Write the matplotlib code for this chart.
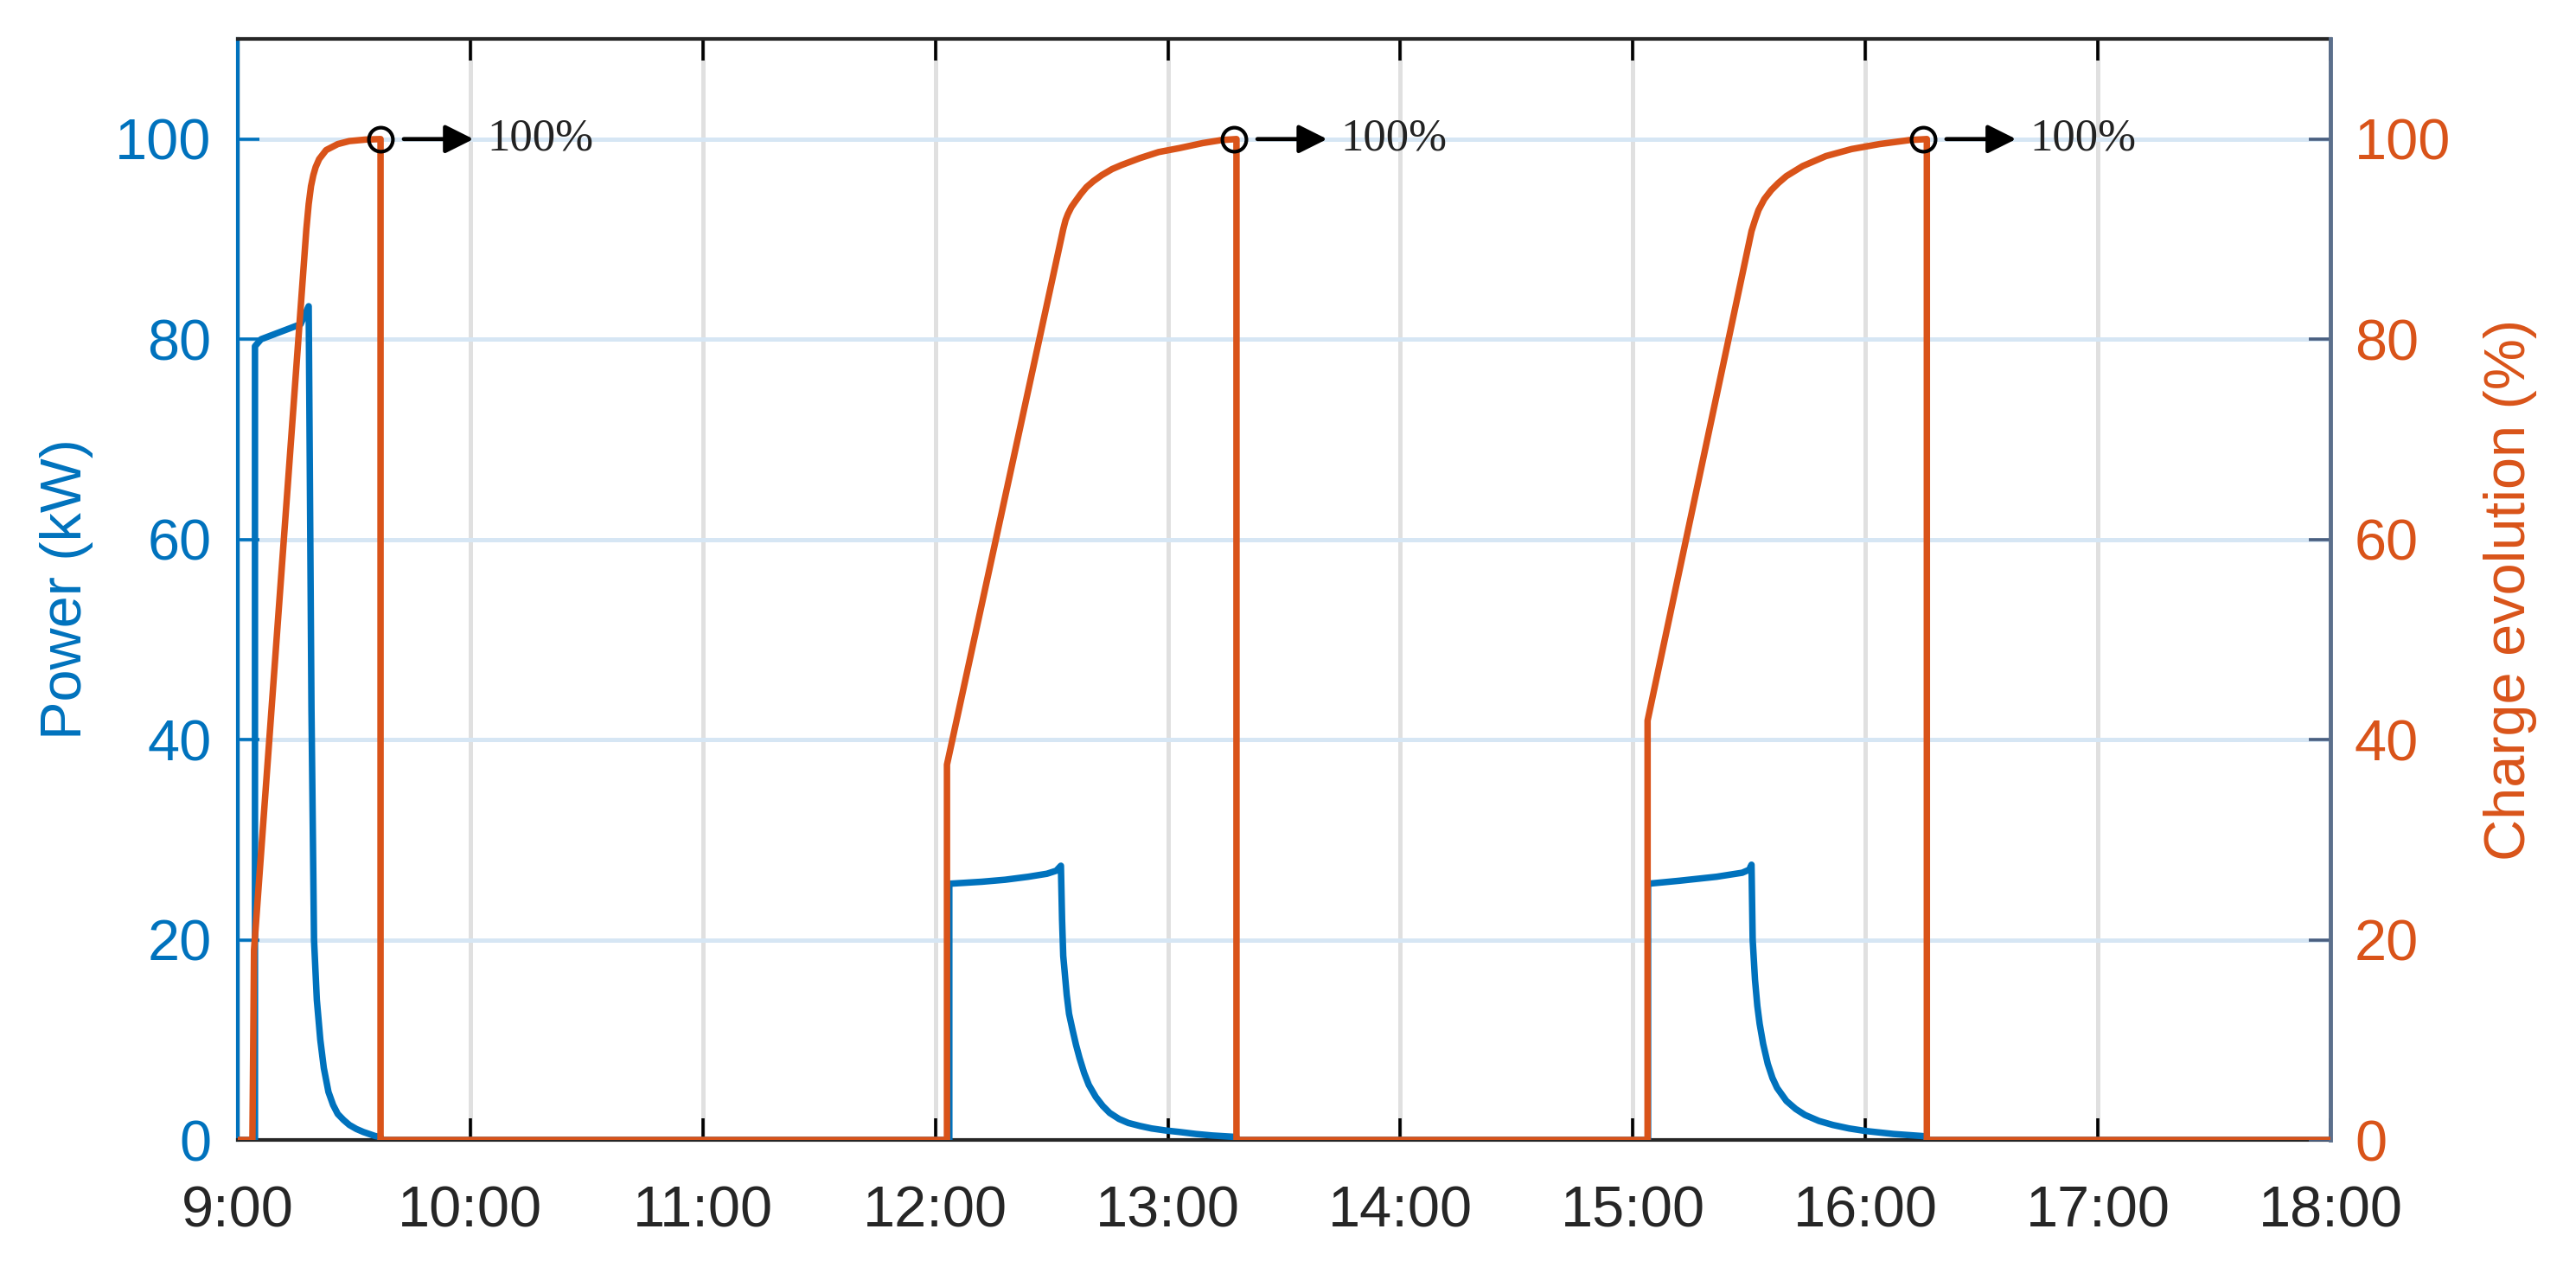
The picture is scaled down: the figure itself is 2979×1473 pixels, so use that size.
import numpy as np
import matplotlib.pyplot as plt

plt.rcParams['font.family'] = ['Liberation Sans', 'DejaVu Sans']

# time in decimal hours, power in kW (three charging sessions)
s1_t = [9.0, 9.074, 9.074, 9.10, 9.27, 9.305, 9.317, 9.328, 9.34, 9.355, 9.37, 9.39, 9.41, 9.43, 9.455,
        9.48, 9.51, 9.54, 9.59, 9.614, 9.614]
s1_kw = [0, 0, 79.3, 80.0, 81.5, 83.3, 43, 20, 14, 10, 7.2, 4.8, 3.5, 2.6, 2.0,
         1.5, 1.1, 0.8, 0.4, 0.3, 0]
s2_t = [12.06, 12.06, 12.20, 12.30, 12.40, 12.48, 12.52, 12.54, 12.545, 12.55, 12.565, 12.575, 12.59, 12.605,
        12.62, 12.64, 12.66, 12.69, 12.72, 12.75, 12.79, 12.83, 12.88, 12.93, 12.99, 13.05, 13.12, 13.19,
        13.26, 13.295, 13.295]
s2_kw = [0, 25.6, 25.8, 26.0, 26.3, 26.6, 26.9, 27.4, 22, 18.4, 14.5, 12.6, 11, 9.5,
         8.2, 6.7, 5.5, 4.3, 3.4, 2.7, 2.1, 1.7, 1.4, 1.15, 0.95, 0.8, 0.6, 0.45,
         0.35, 0.3, 0]
s3_t = [15.065, 15.065, 15.20, 15.36, 15.47, 15.50, 15.51, 15.515, 15.525, 15.535, 15.545, 15.56, 15.58, 15.60,
        15.62, 15.66, 15.70, 15.74, 15.80, 15.86, 15.93, 16.0, 16.06, 16.12, 16.18, 16.24, 16.264, 16.264, 18.0]
s3_kw = [0, 25.6, 25.9, 26.3, 26.7, 27.0, 27.5, 20, 16, 13.4, 11.6, 9.6, 7.6, 6.2,
         5.2, 3.9, 3.1, 2.5, 1.9, 1.5, 1.15, 0.9, 0.75, 0.6, 0.5, 0.4, 0.35, 0, 0]

# state of charge (%)
charge_t = [9.0, 9.063, 9.07, 9.295, 9.305, 9.315, 9.325, 9.335, 9.35, 9.38, 9.43, 9.48, 9.55, 9.614, 9.614,
            12.05, 12.05, 12.55, 12.56, 12.57, 12.585, 12.60, 12.625, 12.65, 12.68, 12.716, 12.76, 12.80,
            12.88, 12.96, 13.05, 13.15, 13.23, 13.295, 13.295,
            15.063, 15.063, 15.51, 15.525, 15.54, 15.565, 15.595, 15.625, 15.66, 15.73, 15.83, 15.94,
            16.06, 16.19, 16.264, 16.264, 18.0]
charge_pct = [0, 0, 19, 91, 93.5, 95.3, 96.4, 97.2, 98.0, 98.9, 99.5, 99.8, 99.95, 100, 0,
              0, 37.5, 91.0, 91.9, 92.5, 93.2, 93.7, 94.5, 95.2, 95.8, 96.4, 97.0, 97.4,
              98.1, 98.7, 99.1, 99.6, 99.9, 100, 0,
              0, 41.9, 90.8, 91.9, 92.9, 94.0, 94.9, 95.6, 96.3, 97.3, 98.3, 99.0,
              99.5, 99.9, 100, 0, 0]

full_t = [9.614, 13.285, 16.248]
hours = list(range(9, 19))
hour_labels = [f"{h}:00" for h in hours]
yticks = [0, 20, 40, 60, 80, 100]

blue = '#0072BD'
orange = '#D95319'

fig = plt.figure(figsize=(29.79, 14.73), dpi=100)
ax = fig.add_axes([0.0923, 0.1052, 0.8124, 0.8642])
ax2 = ax.twinx()

power_t = s1_t + s2_t + s3_t
power_kw = s1_kw + s2_kw + s3_kw
ax.plot(power_t, power_kw, color=blue, lw=5.4, solid_joinstyle='round', zorder=3)
ax2.plot(charge_t, charge_pct, color=orange, lw=5.4, solid_joinstyle='round', zorder=3)

# full charge markers with arrow
ax2.plot(full_t, [100] * len(full_t), 'o', ms=20, mfc='none', mec='black', mew=3, zorder=4)
for t in full_t:
    ax2.annotate('', xy=(t + 0.40, 100), xytext=(t + 0.10, 100),
                 arrowprops=dict(arrowstyle='-|>', color='black', lw=3.4, mutation_scale=50,
                                 shrinkA=0, shrinkB=0))
    ax2.text(t + 0.458, 100, '100%', family='Liberation Serif', fontsize=38,
             color='#222222', va='center', ha='left')

ax.set_xlim(9, 18)
ax.set_ylim(0, 110)
ax2.set_ylim(0, 110)

ax.set_xticks(hours)
ax.set_xticklabels(hour_labels)
ax.set_yticks(yticks)
ax2.set_yticks(yticks)

ax.xaxis.grid(True, color='#e0e0e0', lw=3.6)
ax.yaxis.grid(True, color='#d6e6f4', lw=3.6)
ax.set_axisbelow(True)

ax.tick_params(axis='x', direction='in', top=True, length=18, width=2.6, color='black',
               labelsize=48, labelcolor='#262626', pad=38)
ax.tick_params(axis='y', direction='in', length=18, width=2.6, color=blue,
               labelsize=48, labelcolor=blue, pad=22)
ax2.tick_params(axis='y', direction='in', length=18, width=2.6, color='#4a5f80',
                labelsize=48, labelcolor=orange, pad=20)

for s in ['top', 'bottom']:
    ax.spines[s].set_color('#262626')
    ax.spines[s].set_linewidth(3)
ax.spines['left'].set_color(blue)
ax.spines['left'].set_linewidth(3)
ax.spines['right'].set_visible(False)
for s in ['top', 'bottom', 'left']:
    ax2.spines[s].set_visible(False)
ax2.spines['right'].set_color('#5b6f8c')
ax2.spines['right'].set_linewidth(3.5)

ax.set_ylabel('Power (kW)', fontsize=48, color=blue, labelpad=18)
ax2.set_ylabel('Charge evolution (%)', fontsize=48, color=orange, labelpad=27)

fig.savefig('out.png', dpi=100)
